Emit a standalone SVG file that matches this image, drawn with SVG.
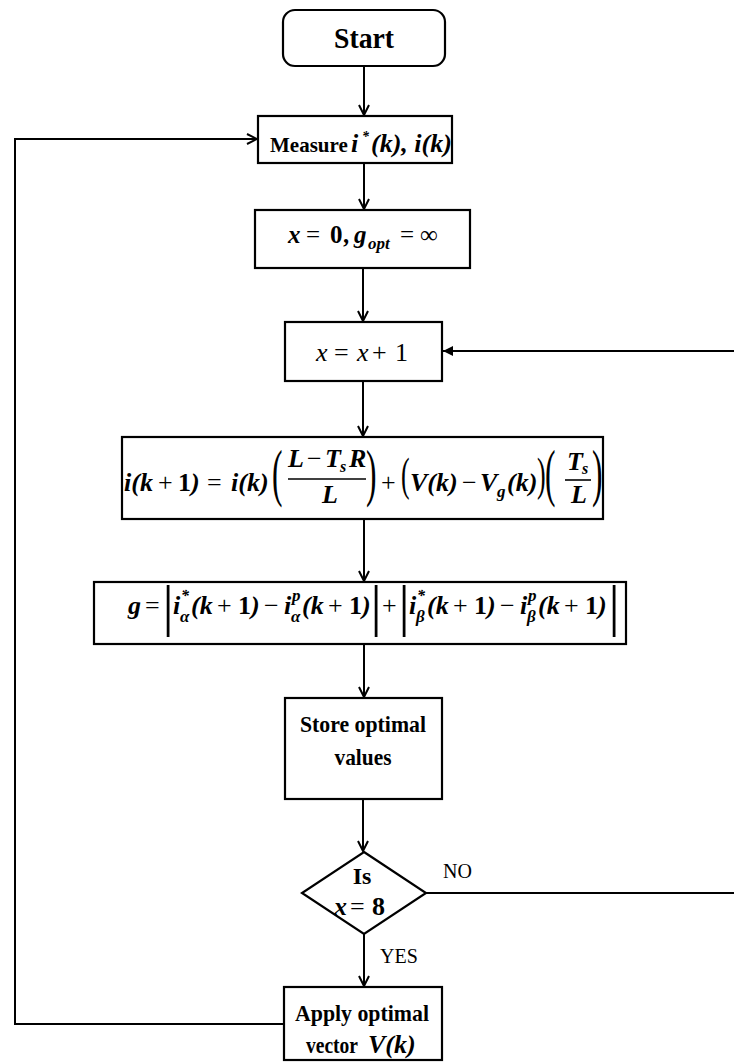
<svg xmlns="http://www.w3.org/2000/svg" width="734" height="1062" viewBox="0 0 734 1062">
<style>
.box{fill:#fff;stroke:#000;stroke-width:2.2}
.ln{fill:none;stroke:#000;stroke-width:2}
.t{font-family:"Liberation Serif","Times New Roman",serif;font-weight:bold;fill:#000}
.m{font-family:"Liberation Serif","Times New Roman",serif;font-weight:bold;font-style:italic;fill:#000}
.r{font-family:"Liberation Serif","Times New Roman",serif;font-weight:normal;fill:#000}
.i{font-family:"Liberation Serif","Times New Roman",serif;font-style:italic;fill:#000}
</style>
<defs>
<marker id="open" viewBox="0 0 12 12" refX="11" refY="6" markerWidth="12" markerHeight="12" markerUnits="userSpaceOnUse" orient="auto">
<path d="M1,1 L11,6 L1,11" fill="none" stroke="#000" stroke-width="2"/>
</marker>
<marker id="fill" viewBox="0 0 10 10" refX="10" refY="5" markerWidth="10" markerHeight="11" markerUnits="userSpaceOnUse" orient="auto">
<path d="M0,0 L10,5 L0,10 z" fill="#000"/>
</marker>
</defs>

<g id="connectors">
<line class="ln" x1="364" y1="66" x2="364" y2="115" marker-end="url(#open)"/>
<line class="ln" x1="364" y1="163" x2="364" y2="209" marker-end="url(#open)"/>
<line class="ln" x1="363" y1="268" x2="363" y2="321" marker-end="url(#open)"/>
<line class="ln" x1="363" y1="381" x2="363" y2="436" marker-end="url(#open)"/>
<line class="ln" x1="364" y1="519" x2="364" y2="581" marker-end="url(#open)"/>
<line class="ln" x1="364" y1="644" x2="364" y2="697" marker-end="url(#open)"/>
<line class="ln" x1="363" y1="799" x2="363" y2="851" marker-end="url(#open)"/>
<line class="ln" x1="364" y1="934" x2="364" y2="986" marker-end="url(#open)"/>
<line class="ln" x1="426" y1="893" x2="734" y2="893"/>
<line class="ln" x1="734" y1="351" x2="443" y2="351" marker-end="url(#fill)"/>
<polyline class="ln" points="284,1024 15,1024 15,139 257,139" marker-end="url(#open)"/>
<text class="r" x="443" y="878" font-size="20">NO</text>
<text class="r" x="380" y="963" font-size="20">YES</text>
</g>

<g id="start">
<rect class="box" x="283" y="10" width="162" height="56" rx="12"/>
<text class="t" x="364" y="48" font-size="30" text-anchor="middle" textLength="60" lengthAdjust="spacingAndGlyphs">Start</text>
</g>

<g id="measure">
<rect class="box" x="258" y="116" width="194" height="47"/>
<text class="t" x="270" y="152" font-size="21">Measure</text>
<text class="m" x="351" y="152" font-size="26">i</text>
<text class="m" x="362" y="141" font-size="14">*</text>
<text class="m" x="371" y="152" font-size="26">(k), i(k)</text>
</g>

<g id="init">
<rect class="box" x="255" y="210" width="215" height="58"/>
<text class="m" x="288" y="243" font-size="25">x</text>
<text class="r" x="306" y="243" font-size="25">=</text>
<text class="t" x="330" y="243" font-size="25">0</text>
<text class="m" x="344" y="243" font-size="25">,</text>
<text class="m" x="354" y="243" font-size="25">g</text>
<text class="m" x="368" y="249" font-size="17">opt</text>
<text class="r" x="400" y="243" font-size="25">=</text>
<text class="r" x="420" y="243" font-size="25">∞</text>
</g>

<g id="increment">
<rect class="box" x="285" y="322" width="157" height="59"/>
<text class="i" x="316" y="361" font-size="26">x</text>
<text class="r" x="334" y="361" font-size="26">=</text>
<text class="i" x="357" y="361" font-size="26">x</text>
<text class="r" x="372" y="361" font-size="26">+</text>
<text class="r" x="395" y="361" font-size="26">1</text>
</g>

<g id="predict">
<rect class="box" x="122" y="437" width="481" height="82"/>
<text class="m" x="124" y="491" font-size="26">i(k</text>
<text class="r" x="158" y="491" font-size="26">+</text>
<text class="t" x="178" y="491" font-size="26">1</text>
<text class="m" x="191" y="491" font-size="26">)</text>
<text class="r" x="207" y="491" font-size="26">=</text>
<text class="m" x="231" y="491" font-size="26">i(k)</text>
<text class="r" transform="translate(272,494) scale(0.5,1)" font-size="63">(</text>
<text class="m" x="288" y="467" font-size="26">L</text>
<text class="r" x="307" y="467" font-size="26">−</text>
<text class="m" x="325" y="467" font-size="26">T</text>
<text class="m" x="340" y="472" font-size="16">s</text>
<text class="m" x="349" y="467" font-size="26">R</text>
<line x1="288" y1="479" x2="366" y2="479" stroke="#000" stroke-width="1.6"/>
<text class="m" x="322" y="503" font-size="26">L</text>
<text class="r" transform="translate(366,494) scale(0.5,1)" font-size="63">)</text>
<text class="r" x="381" y="491" font-size="26">+</text>
<text class="r" transform="translate(401,490) scale(0.55,1)" font-size="47">(</text>
<text class="m" x="410" y="491" font-size="26">V(k)</text>
<text class="r" x="462" y="491" font-size="26">−</text>
<text class="m" x="480" y="491" font-size="26">V</text>
<text class="m" x="497" y="497" font-size="17">g</text>
<text class="m" x="507" y="491" font-size="26">(k)</text>
<text class="r" transform="translate(537,490) scale(0.55,1)" font-size="47">)</text>
<text class="r" transform="translate(545,494) scale(0.5,1)" font-size="63">(</text>
<text class="m" x="567" y="470" font-size="26">T</text>
<text class="m" x="582" y="474" font-size="16">s</text>
<line x1="565" y1="480" x2="591" y2="480" stroke="#000" stroke-width="1.6"/>
<text class="m" x="571" y="503" font-size="26">L</text>
<text class="r" transform="translate(592,494) scale(0.5,1)" font-size="63">)</text>
</g>

<g id="cost">
<rect class="box" x="94" y="582" width="532" height="62"/>
<text class="m" x="128" y="614" font-size="26">g</text>
<text class="r" x="145" y="614" font-size="26">=</text>
<text class="r" x="168" y="625" font-size="56" text-anchor="middle">|</text>
<text class="m" x="173" y="614" font-size="26">i</text>
<text class="m" x="181" y="601" font-size="16">*</text>
<text class="m" x="180" y="622" font-size="17">α</text>
<text class="m" x="191" y="614" font-size="26">(k</text>
<text class="r" x="217" y="614" font-size="26">+</text>
<text class="t" x="238" y="614" font-size="26">1</text>
<text class="m" x="251" y="614" font-size="26">)</text>
<text class="r" x="264" y="614" font-size="26">−</text>
<text class="m" x="284" y="614" font-size="26">i</text>
<text class="m" x="292" y="601" font-size="17">p</text>
<text class="m" x="291" y="622" font-size="17">α</text>
<text class="m" x="302" y="614" font-size="26">(k</text>
<text class="r" x="328" y="614" font-size="26">+</text>
<text class="t" x="349" y="614" font-size="26">1</text>
<text class="m" x="362" y="614" font-size="26">)</text>
<text class="r" x="376" y="625" font-size="56" text-anchor="middle">|</text>
<text class="r" x="382" y="614" font-size="26">+</text>
<text class="r" x="404" y="625" font-size="56" text-anchor="middle">|</text>
<text class="m" x="409" y="614" font-size="26">i</text>
<text class="m" x="417" y="601" font-size="16">*</text>
<text class="m" x="416" y="622" font-size="17">β</text>
<text class="m" x="427" y="614" font-size="26">(k</text>
<text class="r" x="453" y="614" font-size="26">+</text>
<text class="t" x="474" y="614" font-size="26">1</text>
<text class="m" x="487" y="614" font-size="26">)</text>
<text class="r" x="500" y="614" font-size="26">−</text>
<text class="m" x="520" y="614" font-size="26">i</text>
<text class="m" x="528" y="601" font-size="17">p</text>
<text class="m" x="527" y="622" font-size="17">β</text>
<text class="m" x="538" y="614" font-size="26">(k</text>
<text class="r" x="564" y="614" font-size="26">+</text>
<text class="t" x="585" y="614" font-size="26">1</text>
<text class="m" x="598" y="614" font-size="26">)</text>
<text class="r" x="614" y="625" font-size="56" text-anchor="middle">|</text>
</g>

<g id="store">
<rect class="box" x="285" y="698" width="157" height="101"/>
<text class="t" x="363" y="732" font-size="24" text-anchor="middle" textLength="126" lengthAdjust="spacingAndGlyphs">Store optimal</text>
<text class="t" x="363" y="765" font-size="24" text-anchor="middle" textLength="57" lengthAdjust="spacingAndGlyphs">values</text>
</g>

<g id="decision">
<polygon class="box" points="364,852 426,893 364,934 302,893"/>
<text class="t" x="362" y="884" font-size="24" text-anchor="middle">Is</text>
<text class="m" x="334" y="915" font-size="26">x</text>
<text class="r" x="350" y="915" font-size="26">=</text>
<text class="t" x="372" y="915" font-size="26">8</text>
</g>

<g id="apply">
<rect class="box" x="284" y="987" width="158" height="73"/>
<text class="t" x="295" y="1021" font-size="24" textLength="134" lengthAdjust="spacingAndGlyphs">Apply optimal</text>
<text class="t" x="306" y="1053" font-size="24" textLength="52" lengthAdjust="spacingAndGlyphs">vector</text>
<text class="m" x="368" y="1053" font-size="26">V(k)</text>
</g>
</svg>
